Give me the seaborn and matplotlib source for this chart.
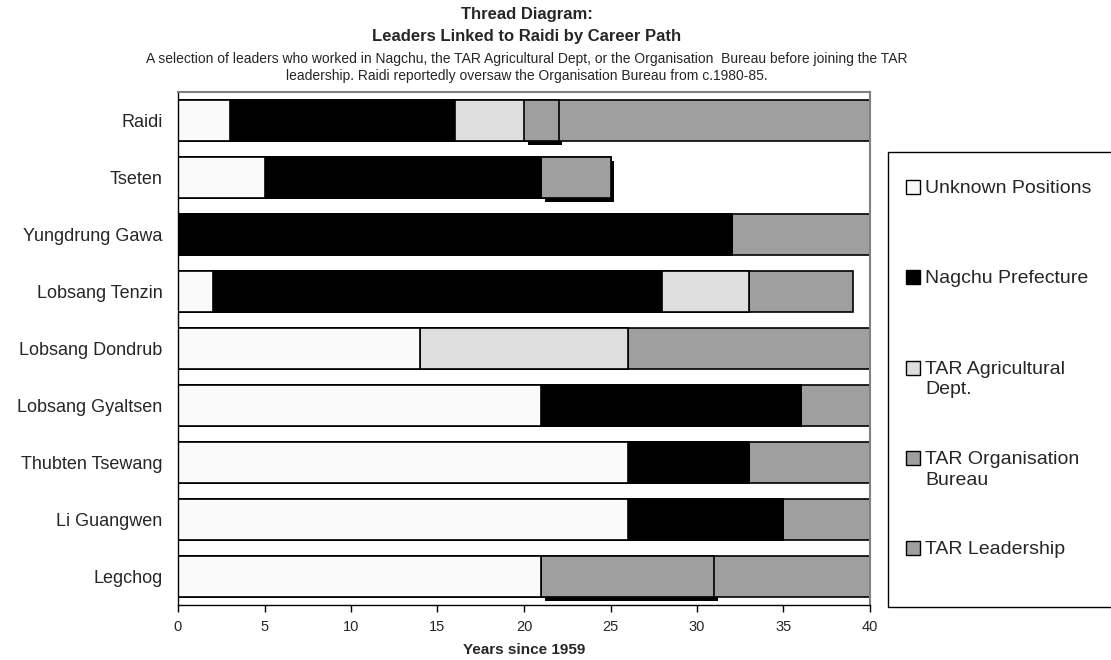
import numpy as np
import pandas as pd
import matplotlib
matplotlib.use("Agg")
import matplotlib.pyplot as plt
import matplotlib.transforms as mtransforms
from matplotlib.patches import Rectangle
import seaborn as sns

# ---- data -------------------------------------------------------------
leaders = ["Raidi", "Tseten", "Yungdrung Gawa", "Lobsang Tenzin",
           "Lobsang Dondrub", "Lobsang Gyaltsen", "Thubten Tsewang",
           "Li Guangwen", "Legchog"]
series = ["Unknown Positions", "Nagchu Prefecture", "TAR Agricultural\nDept.",
          "TAR Organisation\nBureau", "TAR Leadership"]

# years spent in each stage (stacked left to right)
unknown = [3, 5, 0, 2, 14, 21, 26, 26, 21]
nagchu = [13, 16, 32, 26, 0, 15, 7, 9, 0]
agri_dept = [4, 0, 0, 5, 12, 0, 0, 0, 0]
org_bureau = [2, 4, 0, 0, 0, 0, 0, 0, 10]
leadership = [18, 0, 8, 6, 14, 4, 7, 5, 9]

xticks = [0, 5, 10, 15, 20, 25, 30, 35, 40]
colors = ["#fafafa", "#000000", "#dedede", "#9f9f9f", "#9f9f9f"]

# ---- style ------------------------------------------------------------
sns.set_style("white")
plt.rcParams["font.family"] = ["Liberation Sans", "DejaVu Sans"]

W, H = 1111, 660
fig = plt.figure(figsize=(W / 100, H / 100), dpi=100)
ax = fig.add_axes([178 / W, 1 - 605 / H, 692 / W, 513 / H])

durations = np.array([unknown, nagchu, agri_dept, org_bureau, leadership], dtype=float)
ends = durations.cumsum(axis=0)
bar_h = 0.71

# drop shadow behind the Organisation Bureau segments
shadow_tr = mtransforms.offset_copy(ax.transData, fig=fig, x=3.5, y=-4, units="dots")
org = durations[3]
mask = org > 0
ypos = np.arange(len(leaders))
ax.barh(ypos[mask], org[mask], left=ends[2][mask], height=bar_h,
        color="black", linewidth=0, transform=shadow_tr, zorder=1)

# stacked bars: draw cumulative totals from the longest down
for i in reversed(range(len(series))):
    df = pd.DataFrame({"leader": leaders, "end": ends[i]})
    sns.barplot(data=df, x="end", y="leader", order=leaders, orient="h",
                color=colors[i], saturation=1, edgecolor="black",
                linewidth=1.2, width=bar_h, errorbar=None, ax=ax, zorder=2)

# ---- axes -------------------------------------------------------------
ax.set_xlim(0, 40)
ax.set_ylim(len(leaders) - 0.5, -0.5)
ax.set_xticks(xticks)
ax.set_xticklabels([str(t) for t in xticks], fontsize=10.5)
ax.set_xlabel("Years since 1959", fontsize=11, fontweight="bold", labelpad=6)
ax.set_ylabel("")
ax.set_yticks(ypos)
ax.set_yticklabels(leaders, fontsize=13)
ax.set_yticks(np.arange(len(leaders) + 1) - 0.5, minor=True)
ax.tick_params(axis="y", which="major", length=0, pad=11)
ax.tick_params(axis="y", which="minor", length=5, width=1, direction="out", color="black")
ax.tick_params(axis="x", which="major", length=5, width=1, direction="out",
               color="black", pad=6, bottom=True)

for side in ("top", "right"):
    ax.spines[side].set_color("#808080")
    ax.spines[side].set_linewidth(1.5)
for side in ("left", "bottom"):
    ax.spines[side].set_color("black")
    ax.spines[side].set_linewidth(1.0)

# ---- titles -----------------------------------------------------------
cx = 527 / W
fig.text(cx, 1 - 15 / H, "Thread Diagram:", ha="center", va="center",
         fontsize=12, fontweight="bold")
fig.text(cx, 1 - 37 / H, "Leaders Linked to Raidi by Career Path", ha="center",
         va="center", fontsize=12, fontweight="bold")
fig.text(cx, 1 - 59 / H,
         "A selection of leaders who worked in Nagchu, the TAR Agricultural Dept, "
         "or the Organisation  Bureau before joining the TAR",
         ha="center", va="center", fontsize=10)
fig.text(cx, 1 - 76 / H,
         "leadership. Raidi reportedly oversaw the Organisation Bureau from c.1980-85.",
         ha="center", va="center", fontsize=10)

# ---- legend -----------------------------------------------------------
fig.add_artist(Rectangle((888 / W, 1 - 607 / H), (1112 - 888) / W, (607 - 152) / H,
                         transform=fig.transFigure, facecolor="white",
                         edgecolor="black", linewidth=1.0))
leg_fs = 14
sq = 14
for i, (label, col) in enumerate(zip(series, colors)):
    yc = 187 + 90.3 * i
    fig.add_artist(Rectangle((906 / W, 1 - (yc + sq / 2) / H), sq / W, sq / H,
                             transform=fig.transFigure, facecolor=col,
                             edgecolor="black", linewidth=1.0))
    cap_half = 0.36 * leg_fs * 100 / 72
    fig.text(925 / W, 1 - (yc - cap_half) / H, label, ha="left", va="top",
             fontsize=leg_fs, linespacing=1.3)

fig.savefig("out.png", dpi=100)
